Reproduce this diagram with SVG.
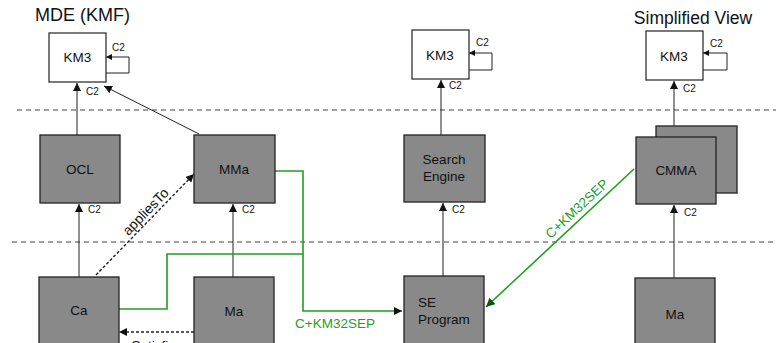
<svg xmlns="http://www.w3.org/2000/svg" width="776" height="343" viewBox="0 0 776 343">
<defs>
<style>
.t{font-family:"Liberation Sans",Arial,sans-serif;fill:#111}
.n{font-size:13.5px}
.c{font-size:10px}
.km{fill:#fff;stroke:#222;stroke-width:1.2}
.g{fill:#898989;stroke:#222;stroke-width:1.3}
.e{fill:none;stroke:#222;stroke-width:1}
.gr{fill:none;stroke:#1f9e1f;stroke-width:1.6}
.d{fill:none;stroke:#222;stroke-width:1.4;stroke-dasharray:3,2}
.sep{fill:none;stroke:#444;stroke-width:1;stroke-dasharray:5,4}
.gt{font-family:"Liberation Sans",Arial,sans-serif;font-size:13.5px;fill:#1f9e1f}
</style>
<marker id="a" viewBox="0 0 10 10" refX="10" refY="5" markerWidth="8" markerHeight="8" markerUnits="userSpaceOnUse" orient="auto"><path d="M0,0L10,5L0,10z" fill="#111"/></marker>
<marker id="as" viewBox="0 0 10 10" refX="10" refY="5" markerWidth="6" markerHeight="6" markerUnits="userSpaceOnUse" orient="auto"><path d="M0,0L10,5L0,10z" fill="#111"/></marker>
<marker id="ag" viewBox="0 0 10 10" refX="10" refY="5" markerWidth="9" markerHeight="9" markerUnits="userSpaceOnUse" orient="auto"><path d="M0,0L10,5L0,10z" fill="#115511"/></marker>
</defs>
<text class="t" x="35" y="21" font-size="18">MDE (KMF)</text>
<text class="t" x="693" y="24" font-size="17.5" text-anchor="middle">Simplified View</text>
<path class="sep" d="M17,110H776"/>
<path class="sep" d="M12,242H776"/>
<g id="edges">
<path class="e" d="M106,73H129V57H106" marker-end="url(#as)"/>
<path class="e" d="M77,135V83" marker-end="url(#a)"/>
<path class="e" d="M199,134L104,86" marker-end="url(#a)"/>
<path class="e" d="M79,277V204" marker-end="url(#a)"/>
<path class="e" d="M233,277V204" marker-end="url(#a)"/>
<path class="d" d="M96,275L194,174" marker-end="url(#a)"/>
<path class="d" d="M194,332H119" marker-end="url(#a)"/>
<path class="gr" d="M275,171H303V311H402" marker-end="url(#a)"/>
<path class="gr" d="M119,309H167V254H303"/>
<path class="gr" d="M634,169L486,307" marker-end="url(#ag)"/>
<path class="e" d="M469,70H492V53H469" marker-end="url(#as)"/>
<path class="e" d="M441,135V80" marker-end="url(#a)"/>
<path class="e" d="M443,276V203" marker-end="url(#a)"/>
<path class="e" d="M703,70H727V53H703" marker-end="url(#as)"/>
<path class="e" d="M674,126V81" marker-end="url(#a)"/>
<path class="e" d="M674,278V205" marker-end="url(#a)"/>
<text class="t c" x="112" y="51">C2</text>
<text class="t c" x="86" y="95">C2</text>
<text class="t c" x="88" y="213">C2</text>
<text class="t c" x="242" y="213">C2</text>
<text class="t c" x="476" y="46">C2</text>
<text class="t c" x="449" y="89">C2</text>
<text class="t c" x="452" y="213">C2</text>
<text class="t c" x="710" y="47">C2</text>
<text class="t c" x="683" y="92">C2</text>
<text class="t c" x="684" y="216">C2</text>
<text class="t" font-size="14" transform="translate(149,215) rotate(-46)" text-anchor="middle">appliesTo</text>
<text class="t" font-size="13.5" x="157" y="350" text-anchor="middle">Satisfies</text>
<text class="gt" x="335" y="328" text-anchor="middle">C+KM32SEP</text>
<text class="gt" transform="translate(580,212) rotate(-43)" text-anchor="middle">C+KM32SEP</text>
</g>
<g id="km3a"><rect class="km" x="49" y="33" width="57" height="49"/><text class="t n" x="77.5" y="62" text-anchor="middle">KM3</text></g>
<g id="ocl"><rect class="g" x="40" y="135" width="80" height="68"/><text class="t n" x="80" y="174" text-anchor="middle">OCL</text></g>
<g id="mma"><rect class="g" x="194" y="135" width="81" height="68"/><text class="t n" x="234" y="174" text-anchor="middle">MMa</text></g>
<g id="ca"><rect class="g" x="39" y="277" width="80" height="70"/><text class="t n" x="79" y="315" text-anchor="middle">Ca</text></g>
<g id="ma"><rect class="g" x="194" y="277" width="80" height="70"/><text class="t n" x="234" y="316" text-anchor="middle">Ma</text></g>
<g id="km3b"><rect class="km" x="412" y="30" width="57" height="49"/><text class="t n" x="440" y="60" text-anchor="middle">KM3</text></g>
<g id="se"><rect class="g" x="404" y="135" width="81" height="67"/><text class="t n" x="444" y="164" text-anchor="middle">Search</text><text class="t n" x="444" y="181" text-anchor="middle">Engine</text></g>
<g id="sep"><rect class="g" x="404" y="276" width="80" height="71"/><text class="t n" x="418" y="307">SE</text><text class="t n" x="418" y="324">Program</text></g>
<g id="km3c"><rect class="km" x="646" y="31" width="57" height="49"/><text class="t n" x="674" y="61" text-anchor="middle">KM3</text></g>
<g id="cmma"><rect class="g" x="656" y="126" width="81" height="67"/><rect class="g" x="636" y="137" width="80" height="67"/><text class="t n" x="676" y="175" text-anchor="middle">CMMA</text></g>
<g id="ma2"><rect class="g" x="635" y="278" width="80" height="70"/><text class="t n" x="675" y="319" text-anchor="middle">Ma</text></g>
</svg>
